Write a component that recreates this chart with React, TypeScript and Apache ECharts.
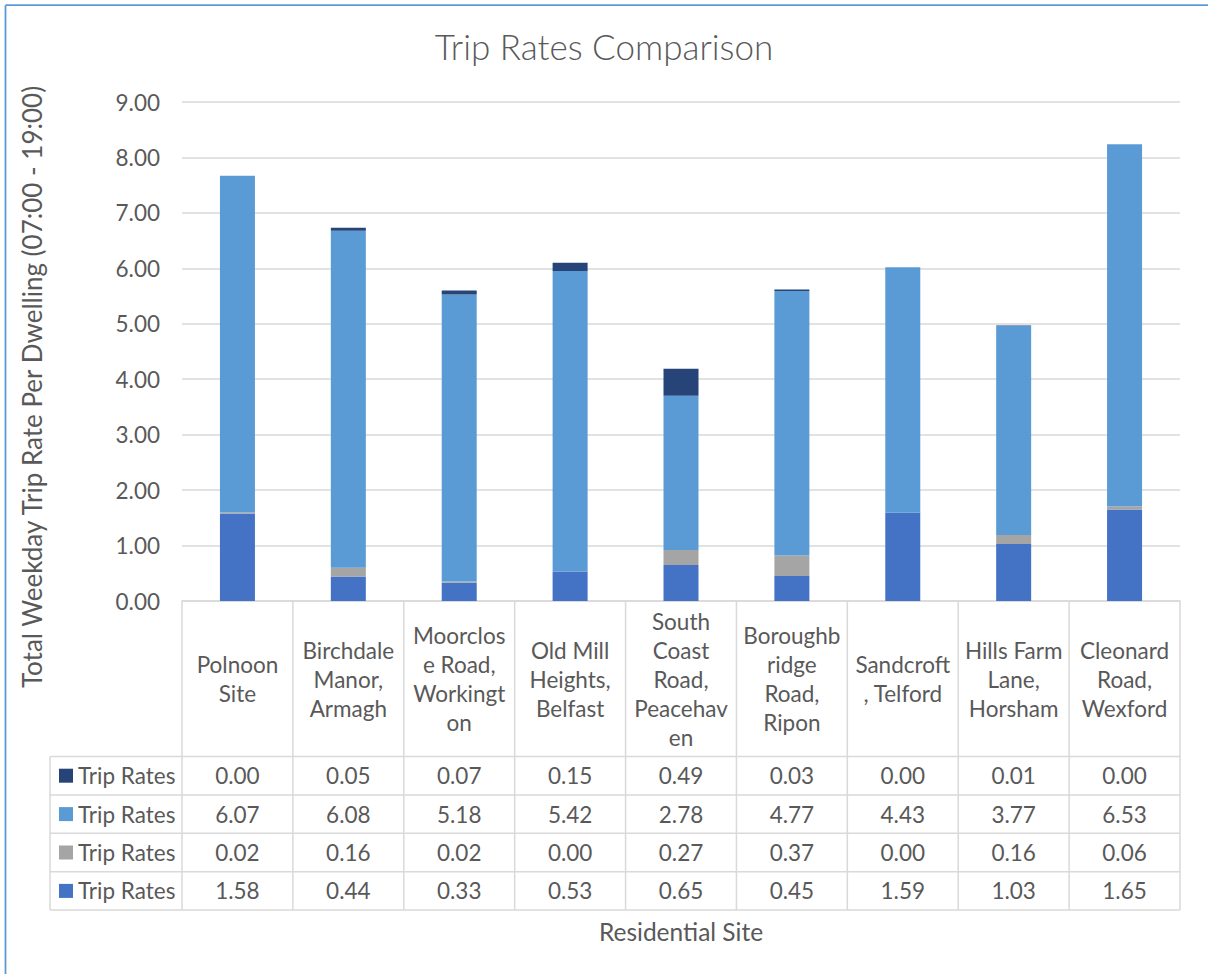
import React, { useEffect, useRef } from "react";
import * as echarts from "echarts";

const categories = [
  "Polnoon\nSite",
  "Birchdale\nManor,\nArmagh",
  "Moorclos\ne Road,\nWorkingt\non",
  "Old Mill\nHeights,\nBelfast",
  "South\nCoast\nRoad,\nPeacehav\nen",
  "Boroughb\nridge\nRoad,\nRipon",
  "Sandcroft\n, Telford",
  "Hills Farm\nLane,\nHorsham",
  "Cleonard\nRoad,\nWexford",
];

const seriesName = "Trip Rates";
const navyValues = [0.0, 0.05, 0.07, 0.15, 0.49, 0.03, 0.0, 0.01, 0.0];
const lightBlueValues = [6.07, 6.08, 5.18, 5.42, 2.78, 4.77, 4.43, 3.77, 6.53];
const greyValues = [0.02, 0.16, 0.02, 0.0, 0.27, 0.37, 0.0, 0.16, 0.06];
const blueValues = [1.58, 0.44, 0.33, 0.53, 0.65, 0.45, 1.59, 1.03, 1.65];

const yMin = 0;
const yMax = 9;
const yInterval = 1;

const titleText = "Trip Rates Comparison";
const yAxisTitle = "Total Weekday Trip Rate Per Dwelling (07:00 - 19:00)";
const xAxisTitle = "Residential Site";

const FONT = "Lato";
const TEXT = "#595959";
const LINE = "#D9D9D9";

const COLORS = {
  blue: "#4472C4",
  grey: "#A5A5A5",
  light: "#5B9BD5",
  navy: "#264478",
};

export default function App() {
  const ref = useRef<HTMLDivElement>(null);

  useEffect(() => {
    document.body.style.margin = "0";
    if (!ref.current) return;
    const chart = echarts.init(ref.current, undefined, { renderer: "svg" });

    const stackSeries = [
      { data: blueValues, color: COLORS.blue },
      { data: greyValues, color: COLORS.grey },
      { data: lightBlueValues, color: COLORS.light },
      { data: navyValues, color: COLORS.navy },
    ];

    const option: any = {
      animation: false,
      backgroundColor: "#ffffff",
      textStyle: { fontFamily: FONT },
      title: {
        text: titleText,
        left: "center",
        top: 23,
        textStyle: {
          fontFamily: FONT,
          fontSize: 35,
          fontWeight: 300,
          color: TEXT,
        },
      },
      grid: {
        left: 182,
        right: 28,
        top: 102,
        bottom: 373,
        containLabel: false,
      },
      xAxis: {
        type: "category",
        data: categories,
        axisLine: { show: true, lineStyle: { color: LINE, width: 1.5 } },
        axisTick: { show: false },
        axisLabel: {
          interval: 0,
          margin: 78,
          verticalAlign: "middle",
          align: "center",
          fontFamily: FONT,
          fontSize: 22.5,
          lineHeight: 29,
          color: TEXT,
        },
      },
      yAxis: {
        type: "value",
        min: yMin,
        max: yMax,
        interval: yInterval,
        axisLine: { show: false },
        axisTick: { show: false },
        axisLabel: {
          formatter: (v: number) => v.toFixed(2),
          fontFamily: FONT,
          fontSize: 22.5,
          color: TEXT,
          margin: 22,
        },
        splitLine: { lineStyle: { color: LINE, width: 1.5 } },
      },
      series: stackSeries.map((s) => ({
        name: seriesName,
        type: "bar",
        stack: "total",
        barWidth: 35,
        data: s.data,
        itemStyle: { color: s.color },
      })),
    };

    chart.setOption(option);

    const n = categories.length;
    const centers = categories.map(
      (_, i) => chart.convertToPixel({ xAxisIndex: 0 }, i) as number
    );
    const bandW = n > 1 ? centers[1] - centers[0] : 110;
    const left = centers[0] - bandW / 2;
    const right = centers[n - 1] + bandW / 2;
    const axisY = chart.convertToPixel({ yAxisIndex: 0 }, yMin) as number;

    const tableTop = 756.5;
    const rowH = 38.4;
    const tableLeft = 50;

    const rows = [
      { values: navyValues, color: COLORS.navy },
      { values: lightBlueValues, color: COLORS.light },
      { values: greyValues, color: COLORS.grey },
      { values: blueValues, color: COLORS.blue },
    ];
    const tableBottom = tableTop + rowH * rows.length;

    const graphics: any[] = [];
    const lineStyle = { stroke: LINE, lineWidth: 1.5 };

    for (let k = 0; k <= n; k++) {
      const x = left + k * bandW;
      graphics.push({
        type: "line",
        shape: { x1: x, y1: axisY, x2: x, y2: tableBottom },
        style: lineStyle,
        silent: true,
      });
    }
    graphics.push({
      type: "line",
      shape: { x1: tableLeft, y1: tableTop, x2: tableLeft, y2: tableBottom },
      style: lineStyle,
      silent: true,
    });
    for (let r = 0; r <= rows.length; r++) {
      const y = tableTop + r * rowH;
      graphics.push({
        type: "line",
        shape: { x1: tableLeft, y1: y, x2: right, y2: y },
        style: lineStyle,
        silent: true,
      });
    }

    rows.forEach((row, r) => {
      const cy = tableTop + r * rowH + rowH / 2;
      graphics.push({
        type: "rect",
        shape: { x: 59, y: cy - 7, width: 14, height: 14 },
        style: { fill: row.color },
        silent: true,
      });
      graphics.push({
        type: "text",
        x: 78,
        y: cy,
        style: {
          text: seriesName,
          fontFamily: FONT,
          fontSize: 22.5,
          fill: TEXT,
          align: "left",
          verticalAlign: "middle",
        },
        silent: true,
      });
      row.values.forEach((v, i) => {
        graphics.push({
          type: "text",
          x: centers[i],
          y: cy,
          style: {
            text: v.toFixed(2),
            fontFamily: FONT,
            fontSize: 22.5,
            fill: TEXT,
            align: "center",
            verticalAlign: "middle",
          },
          silent: true,
        });
      });
    });

    graphics.push({
      type: "text",
      x: 32,
      y: 387,
      rotation: Math.PI / 2,
      style: {
        text: yAxisTitle,
        fontFamily: FONT,
        fontSize: 26,
        fill: TEXT,
        align: "center",
        verticalAlign: "middle",
      },
      silent: true,
    });
    graphics.push({
      type: "text",
      x: (left + right) / 2,
      y: 931,
      style: {
        text: xAxisTitle,
        fontFamily: FONT,
        fontSize: 24.5,
        fill: TEXT,
        align: "center",
        verticalAlign: "middle",
      },
      silent: true,
    });

    graphics.push({
      type: "line",
      shape: { x1: 5.5, y1: 5.2, x2: 1208, y2: 5.2 },
      style: { stroke: "#5B9BD5", lineWidth: 1.8 },
      silent: true,
    });
    graphics.push({
      type: "line",
      shape: { x1: 5.5, y1: 5.2, x2: 5.5, y2: 974 },
      style: { stroke: "#5B9BD5", lineWidth: 1.8 },
      silent: true,
    });

    chart.setOption({ graphic: graphics });

    return () => {
      chart.dispose();
    };
  }, []);

  return <div ref={ref} style={{ width: 1208, height: 974 }} />;
}
